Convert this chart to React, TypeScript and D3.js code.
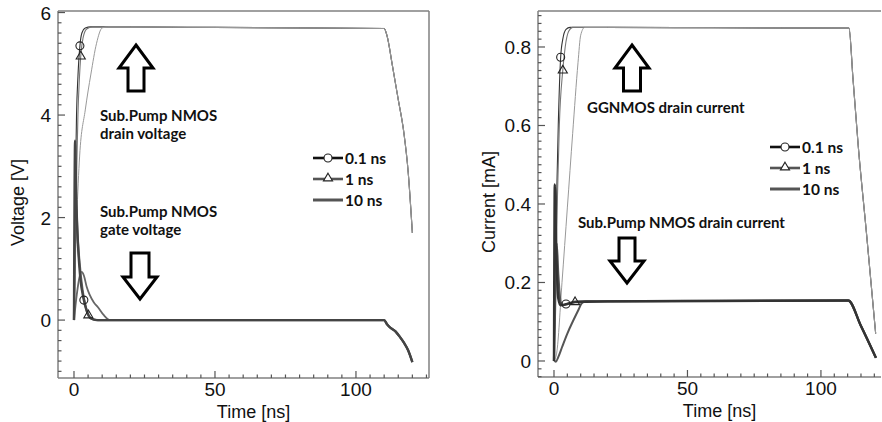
import * as d3 from 'd3';

type Pt = [number, number];

// ---- series labels ----
const SERIES_NAMES = ['0.1 ns', '1 ns', '10 ns'];

// ---- left panel: Sub.Pump NMOS voltages [V] vs time [ns] ----
const drainV01Head: Pt[] = [[0, 0], [0.3, 1.6], [0.6, 3.0], [0.9, 4.0], [1.4, 4.75], [2.1, 5.35], [2.8, 5.6], [4, 5.7], [6, 5.72]];
const drainV1Head: Pt[] = [[0, 0], [0.6, 1.6], [1.0, 3.0], [1.4, 4.0], [1.9, 4.7], [2.4, 5.15], [3.2, 5.5], [4.5, 5.68], [6.5, 5.72]];
const drainV10Head: Pt[] = [[0, 0], [0.5, 1.2], [1, 2.0], [2, 3.2], [4, 4.1], [6, 4.8], [8, 5.4], [10, 5.7], [12, 5.72]];
const drainVTail: Pt[] = [[20, 5.72], [50, 5.71], [80, 5.7], [110, 5.69], [111, 5.55], [113, 4.94], [115, 4.3], [117, 3.65], [118.5, 2.9], [120, 1.7]];

const gateV01Head: Pt[] = [[0, 0], [0.4, 3.5], [0.8, 2.4], [1.4, 1.5], [2.2, 0.85], [3.5, 0.39], [4.5, 0.18], [6, 0.03], [8, 0]];
const gateV1Head: Pt[] = [[0, 0], [0.7, 2.3], [1.2, 1.7], [2, 1.1], [3, 0.6], [4, 0.3], [5.1, 0.1], [6.5, 0.02], [8.5, 0]];
const gateV10Head: Pt[] = [[0, 0], [1, 0.5], [2, 0.85], [2.7, 0.94], [3.5, 0.87], [4.5, 0.65], [5.5, 0.5], [7, 0.35], [8.5, 0.25], [10.5, 0.1], [12.8, 0]];
const gateVTail: Pt[] = [[20, 0], [50, 0], [80, 0], [110, 0], [111, -0.08], [112, -0.14], [114, -0.22], [115.6, -0.33], [117, -0.44], [118.5, -0.59], [120, -0.82]];

const voltCircles: Pt[] = [[2.1, 5.35], [3.5, 0.39]];
const voltTriangles: Pt[] = [[2.4, 5.15], [5.1, 0.1]];

// ---- right panel: drain currents [mA] vs time [ns] ----
const ggI01Head: Pt[] = [[0, 0], [0.5, 0.2], [1, 0.42], [1.6, 0.6], [2.5, 0.774], [3.3, 0.82], [4.5, 0.845], [6, 0.85]];
const ggI1Head: Pt[] = [[0, 0], [0.7, 0.2], [1.3, 0.42], [2, 0.6], [3.3, 0.741], [4.2, 0.8], [5.5, 0.84], [7, 0.85]];
const ggI10Head: Pt[] = [[0, 0], [1, 0.02], [3, 0.2], [5, 0.39], [7, 0.58], [9, 0.76], [10, 0.83], [11.5, 0.85]];
const ggITail: Pt[] = [[20, 0.85], [60, 0.849], [110.5, 0.848], [112, 0.72], [114, 0.546], [117, 0.33], [120.5, 0.07]];

const spI01Head: Pt[] = [[0, 0], [0.3, 0.45], [0.8, 0.3], [1.6, 0.16], [2.5, 0.142], [4.5, 0.145], [8, 0.15], [12, 0.151]];
const spI1Head: Pt[] = [[0, 0], [0.6, 0.2], [1, 0.3], [1.6, 0.22], [2.5, 0.15], [3.5, 0.142], [5, 0.145], [7.9, 0.151], [12, 0.152]];
const spI10Head: Pt[] = [[0, 0.002], [0.7, -0.002], [1.6, 0.01], [3, 0.035], [5, 0.07], [7, 0.1], [9, 0.128], [10.4, 0.147], [12, 0.152]];
const spITail: Pt[] = [[20, 0.152], [60, 0.153], [110.2, 0.154], [115, 0.089], [120.6, 0.008]];

const currCircles: Pt[] = [[2.5, 0.774], [4.5, 0.145]];
const currTriangles: Pt[] = [[3.3, 0.741], [7.9, 0.151]];

// ---- ticks ----
const voltTicks = [0, 2, 4, 6];
const currTicks = [0, 0.2, 0.4, 0.6, 0.8];
const timeTicks = [0, 50, 100];

const TICK_FONT = '"Liberation Sans", Arial, sans-serif';
const NOTE_FONT = 'Lato, "Open Sans", sans-serif';

type Line = { data: Pt[]; stroke: string; width: number };
type Arrow = { cx: number; tip: number; base: number; end: number; hw: number; sw: number };
type Note = { x: number; y: number; lines: string[] };

type PanelProps = {
  frame: { left: number; right: number; top: number; bottom: number };
  xDomain: [number, number];
  yDomain: [number, number];
  yTicks: number[];
  yMinorStep: number;
  yFmt: (v: number) => string;
  yLabel: string;
  yLabelX: number;
  lines: Line[];
  circles: Pt[];
  triangles: Pt[];
  legend: { x: number; y: number; gap: number };
  arrows: Arrow[];
  notes: Note[];
  rightSpine: boolean;
};

const triPath = (cx: number, cy: number, r: number) =>
  `M${cx},${cy - r}L${cx + r * 0.95},${cy + r * 0.6}L${cx - r * 0.95},${cy + r * 0.6}Z`;

// hollow block arrow, tip at `tip`, head base at `base`, shaft end at `end`
const arrowPath = (a: Arrow) =>
  `M${a.cx},${a.tip}L${a.cx + a.hw},${a.base}L${a.cx + a.sw},${a.base}L${a.cx + a.sw},${a.end}` +
  `L${a.cx - a.sw},${a.end}L${a.cx - a.sw},${a.base}L${a.cx - a.hw},${a.base}Z`;

const Panel = (p: PanelProps) => {
  const { frame } = p;
  const x = d3.scaleLinear().domain(p.xDomain).range([frame.left, frame.right]);
  const y = d3.scaleLinear().domain(p.yDomain).range([frame.bottom, frame.top]);
  const line = d3
    .line<Pt>()
    .x((d) => x(d[0]))
    .y((d) => y(d[1]))
    .curve(d3.curveMonotoneX);

  const xMinor = d3.range(0, p.xDomain[1], 5);
  const yMinor = d3.range(Math.ceil(p.yDomain[0] / p.yMinorStep) * p.yMinorStep, p.yDomain[1], p.yMinorStep);
  const legendStyles = [
    { stroke: '#111', width: 2.6, marker: 'circle' },
    { stroke: '#555', width: 2.6, marker: 'triangle' },
    { stroke: '#555', width: 3, marker: 'none' },
  ];

  return (
    <g>
      {/* data */}
      {p.lines.map((l, i) => (
        <path key={i} d={line(l.data) || ''} fill="none" stroke={l.stroke} strokeWidth={l.width} strokeLinejoin="round" />
      ))}
      {p.circles.map((d, i) => (
        <circle key={'c' + i} cx={x(d[0])} cy={y(d[1])} r={4} fill="none" stroke="#222" strokeWidth={1.1} />
      ))}
      {p.triangles.map((d, i) => (
        <path key={'t' + i} d={triPath(x(d[0]), y(d[1]), 4.8)} fill="none" stroke="#222" strokeWidth={1.1} />
      ))}

      {/* frame */}
      <g stroke="#808080" strokeWidth={1.5} fill="none">
        <line x1={frame.left} x2={frame.left} y1={frame.top} y2={frame.bottom} />
        <line x1={frame.left} x2={frame.right} y1={frame.bottom} y2={frame.bottom} />
        <line x1={frame.left} x2={frame.right} y1={frame.top} y2={frame.top} />
        {p.rightSpine && <line x1={frame.right} x2={frame.right} y1={frame.top} y2={frame.bottom} />}
      </g>

      {/* ticks */}
      <g stroke="#555" strokeWidth={1.2}>
        {xMinor.map((t) => (
          <line key={'xm' + t} x1={x(t)} x2={x(t)} y1={frame.bottom} y2={frame.bottom - (t % 50 === 0 ? 7 : 3.5)} />
        ))}
        {yMinor.map((t) => {
          const major = p.yTicks.some((m) => Math.abs(m - t) < 1e-6);
          return <line key={'ym' + t} x1={frame.left} x2={frame.left + (major ? 7 : 3.5)} y1={y(t)} y2={y(t)} />;
        })}
      </g>
      <g fontFamily={TICK_FONT} fontSize={19} fill="#111">
        {timeTicks.map((t) => (
          <text key={'xl' + t} x={x(t)} y={frame.bottom + 18} textAnchor="middle">
            {t}
          </text>
        ))}
        {p.yTicks.map((t) => (
          <text key={'yl' + t} x={frame.left - 7} y={y(t) + 7} textAnchor="end">
            {p.yFmt(t)}
          </text>
        ))}
      </g>
      <text
        x={(frame.left + frame.right) / 2 + 10}
        y={frame.bottom + 40}
        textAnchor="middle"
        fontFamily={TICK_FONT}
        fontSize={18}
        fill="#111"
      >
        Time [ns]
      </text>
      <text
        transform={`translate(${p.yLabelX},${(frame.top + frame.bottom) / 2 + 8}) rotate(-90)`}
        textAnchor="middle"
        fontFamily={TICK_FONT}
        fontSize={18}
        fill="#111"
      >
        {p.yLabel}
      </text>

      {/* legend */}
      {SERIES_NAMES.map((name, i) => {
        const s = legendStyles[i];
        const ly = p.legend.y + i * p.legend.gap;
        const lx = p.legend.x;
        return (
          <g key={name}>
            <line x1={lx} x2={lx + 30} y1={ly} y2={ly} stroke={s.stroke} strokeWidth={s.width} />
            {s.marker === 'circle' && <circle cx={lx + 15} cy={ly} r={4} fill="white" stroke="#222" strokeWidth={1.1} />}
            {s.marker === 'triangle' && <path d={triPath(lx + 15, ly - 1, 4.8)} fill="white" stroke="#222" strokeWidth={1.1} />}
            <text x={lx + 32} y={ly + 5.5} fontFamily={NOTE_FONT} fontSize={15.5} fontWeight={700} fill="#111">
              {name}
            </text>
          </g>
        );
      })}

      {/* annotations */}
      {p.arrows.map((a, i) => (
        <path key={'a' + i} d={arrowPath(a)} fill="white" stroke="#000" strokeWidth={3} strokeLinejoin="miter" />
      ))}
      {p.notes.map((n, i) => (
        <text key={'n' + i} fontFamily={NOTE_FONT} fontSize={15} fontWeight={700} fill="#111">
          {n.lines.map((s, j) => (
            <tspan key={j} x={n.x} y={n.y + j * 18}>
              {s}
            </tspan>
          ))}
        </text>
      ))}
    </g>
  );
};

const withTail = (head: Pt[], tail: Pt[]) => head.concat(tail);

export default function App() {
  const voltLines: Line[] = [
    { data: withTail(drainV01Head, drainVTail), stroke: '#333', width: 1.1 },
    { data: withTail(drainV1Head, drainVTail), stroke: '#777', width: 1.1 },
    { data: withTail(drainV10Head, drainVTail), stroke: '#999', width: 1 },
    { data: withTail(gateV10Head, gateVTail), stroke: '#666', width: 1.8 },
    { data: withTail(gateV1Head, gateVTail), stroke: '#666', width: 2.2 },
    { data: withTail(gateV01Head, gateVTail), stroke: '#444', width: 2.4 },
  ];
  const currLines: Line[] = [
    { data: withTail(ggI01Head, ggITail), stroke: '#333', width: 1.1 },
    { data: withTail(ggI1Head, ggITail), stroke: '#777', width: 1.1 },
    { data: withTail(ggI10Head, ggITail), stroke: '#999', width: 1 },
    { data: withTail(spI10Head, spITail), stroke: '#555', width: 2 },
    { data: withTail(spI1Head, spITail), stroke: '#555', width: 2.2 },
    { data: withTail(spI01Head, spITail), stroke: '#333', width: 2.4 },
  ];

  return (
    <svg width={882} height={422} style={{ position: 'absolute', left: 0, top: 0, background: 'white' }}>
      <Panel
        frame={{ left: 58, right: 429, top: 11, bottom: 378 }}
        xDomain={[-5.67, 125.9]}
        yDomain={[-1.13, 6.03]}
        yTicks={voltTicks}
        yMinorStep={0.2}
        yFmt={(v) => String(v)}
        yLabel="Voltage [V]"
        yLabelX={24}
        lines={voltLines}
        circles={voltCircles}
        triangles={voltTriangles}
        legend={{ x: 313, y: 158, gap: 21 }}
        arrows={[
          { cx: 136, tip: 45, base: 68, end: 91, hw: 17, sw: 8 },
          { cx: 140, tip: 299, base: 277, end: 253, hw: 17, sw: 9 },
        ]}
        notes={[
          { x: 100, y: 121, lines: ['Sub.Pump NMOS', 'drain voltage'] },
          { x: 100, y: 217, lines: ['Sub.Pump NMOS', 'gate voltage'] },
        ]}
        rightSpine={true}
      />
      <Panel
        frame={{ left: 538, right: 881, top: 11, bottom: 377 }}
        xDomain={[-5.99, 122.5]}
        yDomain={[-0.0408, 0.8917]}
        yTicks={currTicks}
        yMinorStep={0.02}
        yFmt={(v) => (v === 0 ? '0' : v.toFixed(1))}
        yLabel="Current [mA]"
        yLabelX={495}
        lines={currLines}
        circles={currCircles}
        triangles={currTriangles}
        legend={{ x: 770, y: 147, gap: 21 }}
        arrows={[
          { cx: 632, tip: 45, base: 68, end: 91, hw: 17, sw: 8.5 },
          { cx: 627, tip: 283, base: 261, end: 238, hw: 17, sw: 8 },
        ]}
        notes={[
          { x: 587, y: 113, lines: ['GGNMOS drain current'] },
          { x: 578, y: 228, lines: ['Sub.Pump NMOS drain current'] },
        ]}
        rightSpine={false}
      />
    </svg>
  );
}
